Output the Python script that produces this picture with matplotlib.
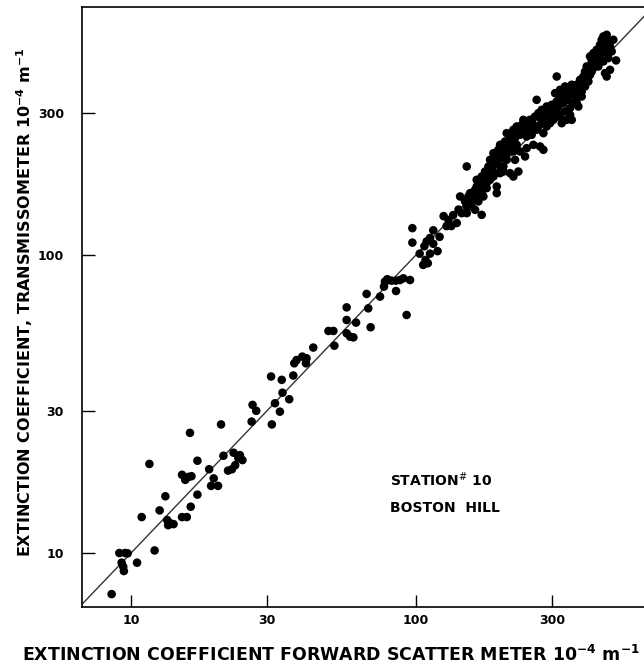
import numpy as np
import matplotlib
matplotlib.use('Agg')
import matplotlib.pyplot as plt
from matplotlib.ticker import FixedLocator, NullLocator

# forward scatter meter (x) vs transmissometer (y), units 1e-4 m^-1
fsm = [8.55, 9.10, 9.53, 9.73, 9.27, 9.39, 9.44, 10.5, 12.1, 11.6, 10.9, 12.6,
       13.2, 13.4, 13.7, 14.1, 13.5, 15.1, 15.7, 16.2, 17.1, 15.1, 15.5, 15.9,
       16.3, 16.1, 17.1, 18.8, 19.5, 19.1, 20.2, 21.1, 20.7, 21.9, 22.6, 23.2,
       22.9, 24.1, 24.6, 23.8, 26.5, 26.7, 27.5, 31.2, 32.0, 33.3,
       31.0, 33.8, 34.0, 35.9, 37.1, 37.4, 38.1, 39.9, 41.1, 41.3, 43.6, 49.3,
       51.3, 51.7, 57.1, 57.1, 61.6, 57.1, 58.7, 60.3, 67.1, 68.0, 69.3, 74.8,
       77.8, 79.3, 82.1, 85.1, 87.9, 90.3, 95.3, 77.2, 85.1, 92.7, 97.1, 97.1,
       103, 107, 108, 110, 112, 115, 115, 119, 121, 112, 109, 106,
       125, 130, 135, 139, 128, 133, 141,
       144.7, 150.7, 156.9, 154.8, 161.2, 167.8, 163.3, 170.0, 174.7, 165.5,
       172.4, 177.0, 170.0, 161.2, 142.8,
       150.7, 192.0, 192.0, 311.7, 503.5, 351.9, 265.1,
       179.5, 181.9, 186.9, 194.5, 197.2, 205.3, 213.8, 208.1, 219.6, 225.6,
       231.8, 241.4, 248.0, 238.1, 254.6, 261.7, 268.8, 192.0, 199.9, 208.1,
       216.7, 222.6, 213.8, 219.6, 228.7, 202.6, 244.6, 258.1, 272.4, 279.9,
       254.6, 265.1, 279.9, 231.8, 241.4, 189.3, 181.9, 197.2,
       276.2, 287.5, 299.4, 311.7, 320.1, 328.9, 342.5, 356.6, 366.5, 376.3,
       386.6, 391.9, 397.2, 291.4, 303.3, 320.1, 333.4, 347.2, 356.6, 366.5,
       381.4, 391.9, 402.6, 338.0, 311.7, 295.3, 324.6, 287.5, 276.2, 356.6,
       371.3, 338.0, 351.9, 333.4, 320.1, 307.6, 408.0, 413.5,
       408.0, 419.1, 430.5, 442.3, 448.3, 454.4, 466.7, 473.2, 479.6, 460.6,
       442.3, 430.5, 454.4, 473.2, 486.0, 492.5, 479.6, 460.6, 436.4, 419.1,
       466.7,
       148.6, 152.7, 159.0, 163.3, 167.8, 172.4, 177.0, 179.5, 184.3, 186.9,
       192.0, 197.2, 202.6, 205.3, 211.0, 216.7, 222.6, 225.6, 231.8, 235.0,
       244.6, 251.2, 258.1, 272.4, 279.9, 287.5, 295.3, 303.3, 315.9, 328.9,
       342.5, 347.2, 361.4, 376.3, 381.4, 391.9, 402.6, 413.5, 424.8, 436.4,
       448.3, 460.6, 466.7, 454.4, 430.5, 413.5, 397.2, 381.4, 366.5, 347.2,
       311.7, 299.4, 279.9, 268.8, 254.6, 244.6, 225.6, 219.6, 208.1, 202.6,
       197.2, 186.9, 177.0, 170.0, 163.3, 156.9, 150.7]
trans = [7.28, 10.0, 10.0, 9.97, 9.28, 9.00, 8.70, 9.28, 10.2, 19.9, 13.2, 13.9,
         15.5, 12.9, 12.6, 12.5, 12.4, 13.2, 13.2, 14.3, 15.7, 18.3, 17.6, 18.0,
         18.1, 25.3, 20.4, 19.1, 17.8, 16.8, 16.8, 21.2, 27.0, 18.9, 19.1, 19.7,
         21.7, 21.3, 20.5, 20.8, 27.6, 31.4, 30.0, 27.0, 31.8, 29.8,
         39.1, 38.1, 34.5, 32.8, 39.4, 43.3, 44.4, 45.6, 43.3, 45.0, 48.9, 55.6,
         55.6, 49.6, 66.7, 60.5, 59.3, 54.6, 53.2, 52.9, 74.0, 66.2, 57.2, 72.5,
         81.4, 82.9, 82.0, 82.0, 82.4, 83.5, 82.4, 78.3, 75.7, 62.9, 123, 110,
         101, 107, 96.2, 93.8, 101, 109, 121, 103, 115, 114, 111, 92.6,
         135, 131, 136, 128, 125, 125, 142,
         138.1, 145.4, 153.1, 161.2, 165.4, 169.7, 178.7, 183.3, 190.5, 151.2,
         157.1, 167.5, 136.3, 141.7, 157.1,
         198.1, 161.2, 169.7, 396.9, 449.4, 284.0, 331.5,
         198.1, 208.5, 219.5, 225.3, 234.1, 240.2, 249.7, 256.2, 263.0, 269.8,
         253.0, 263.0, 273.3, 284.0, 284.0, 291.4, 299.1, 203.2, 211.3, 219.5,
         225.3, 208.5, 188.1, 183.3, 190.5, 190.5, 228.2, 234.1, 231.2, 225.3,
         253.0, 263.0, 256.2, 222.4, 214.0, 188.1, 178.7, 198.1,
         306.8, 314.8, 318.9, 327.4, 335.8, 344.6, 353.6, 362.7, 372.4, 386.9,
         396.9, 412.6, 429.0, 291.4, 284.0, 291.4, 303.1, 310.9, 323.1, 335.8,
         353.6, 367.5, 382.1, 331.5, 303.1, 276.7, 276.7, 269.8, 276.7, 349.0,
         314.8, 284.0, 372.4, 367.5, 358.1, 349.0, 402.1, 440.1,
         463.6, 475.4, 487.9, 507.2, 527.2, 541.1, 547.8, 520.5, 500.6, 481.7,
         463.6, 445.8, 445.8, 457.4, 481.7, 527.2, 417.9, 407.4, 429.0, 423.3,
         396.9,
         151.2, 157.1, 159.1, 169.7, 174.2, 178.7, 183.3, 190.5, 195.6, 203.2,
         211.3, 216.8, 222.4, 231.2, 234.1, 240.2, 246.6, 256.2, 263.0, 273.3,
         276.7, 284.0, 273.3, 287.7, 299.1, 303.1, 310.9, 318.9, 314.8, 323.1,
         331.5, 344.6, 353.6, 367.5, 377.2, 386.9, 396.9, 412.6, 429.0, 451.7,
         475.4, 500.6, 527.2, 513.9, 469.6, 451.7, 407.4, 340.1, 323.1, 295.2,
         291.4, 299.1, 284.0, 269.8, 263.0, 249.7, 234.1, 222.4, 208.5, 198.1,
         188.1, 183.3, 174.2, 161.2, 157.1, 145.4, 138.1]

ticks = [10, 30, 100, 300]
tick_labels = ['10', '30', '100', '300']

xmin, xmax = 6.73, 631
ymin, ymax = 6.59, 679

fig = plt.figure(figsize=(6.44, 6.72), dpi=100)
ax = fig.add_axes([82/644, 1-607/672, 1-82/644, 600/672])

ax.set_xscale('log')
ax.set_yscale('log')
ax.set_xlim(xmin, xmax)
ax.set_ylim(ymin, ymax)

# 1:1 line
ax.plot([xmin, 1000], [xmin, 1000], color='#333333', lw=1.0, zorder=1)
ax.scatter(fsm, trans, s=38, color='black', edgecolors='none', zorder=2)

for a in [ax.xaxis, ax.yaxis]:
    a.set_major_locator(FixedLocator(ticks))
    a.set_minor_locator(NullLocator())
ax.set_xticklabels(tick_labels, fontweight='bold')
ax.set_yticklabels(tick_labels, fontweight='bold')
ax.tick_params(axis='x', direction='in', length=9, width=1.0, pad=5, labelsize=9)
ax.tick_params(axis='y', direction='in', length=9, width=1.0, pad=13, labelsize=9)
ax.spines['right'].set_visible(False)
for s in ['left', 'bottom', 'top']:
    ax.spines[s].set_linewidth(1.2)

ax.text(0.548, 0.212, r'STATION$^{\#}$ 10', transform=ax.transAxes,
        fontsize=10, fontweight='bold', va='center', ha='left')
ax.text(0.548, 0.165, 'BOSTON  HILL', transform=ax.transAxes,
        fontsize=10, fontweight='bold', va='center', ha='left')

fig.text(331/644, 1-655/672,
         r'EXTINCTION COEFFICIENT FORWARD SCATTER METER 10$^{\mathbf{-4}}$ m$^{\mathbf{-1}}$',
         ha='center', va='center', fontsize=12.5, fontweight='bold')
fig.text(25/644, 1-302/672,
         r'EXTINCTION COEFFICIENT, TRANSMISSOMETER 10$^{\mathbf{-4}}$ m$^{\mathbf{-1}}$',
         ha='center', va='center', rotation=90, fontsize=11.5, fontweight='bold')

fig.savefig('out.png', dpi=100)
